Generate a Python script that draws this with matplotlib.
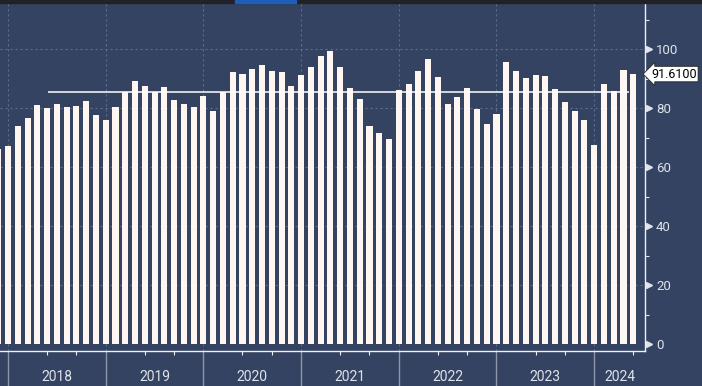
"""
Bar chart of a sentiment index, styled like a Bloomberg terminal panel.
"""

import numpy as np
import matplotlib
matplotlib.use('Agg')
import matplotlib.pyplot as plt
import matplotlib.transforms as mtransforms
from matplotlib.patches import Rectangle


# 10 observations per year, first bar is the last one of 2017
VALUES = [
    66.2,
    67.2, 74.0, 76.7, 81.1, 80.1, 81.5, 80.4, 80.8, 82.5, 77.7,
    76.0, 80.4, 85.4, 89.2, 87.5, 85.4, 87.2, 82.8, 81.5, 80.4,
    84.2, 79.1, 85.4, 92.3, 91.6, 93.3, 94.7, 92.6, 92.3, 87.5,
    91.3, 94.0, 97.7, 99.4, 94.0, 86.9, 83.2, 74.0, 71.6, 69.5,
    86.2, 88.2, 92.6, 96.7, 90.6, 81.5, 83.8, 86.9, 79.8, 74.7,
    78.1, 95.7, 92.6, 90.3, 91.3, 90.9, 86.5, 82.1, 79.1, 76.0,
    67.6, 88.2, 85.9, 93.0, 91.61,
]
YEARS = ['2018', '2019', '2020', '2021', '2022', '2023', '2024']
YEAR_START_IDX = [1, 11, 21, 31, 41, 51, 61]
AVG_LEVEL = 85.4
AVG_SPAN = (5.1, 64.6)
LAST_LABEL = '91.6100'
Y_TICKS = [0, 20, 40, 60, 80, 100]

BG = '#344361'
GRID = '#5b6c8d'
BAR = '#fff5f1'
TEXT = '#dfe3ea'


def main():
    plt.rcParams['font.family'] = ['Roboto', 'DejaVu Sans']

    fig = plt.figure(figsize=(7.02, 3.86), dpi=100, facecolor=BG)
    W, H = 702, 386
    ax = fig.add_axes([0, 35 / H, 645 / W, 348 / H])
    ax.set_facecolor(BG)

    x = np.arange(len(VALUES))
    ax.bar(x, VALUES, width=0.62, color=BAR, zorder=3)
    ax.hlines(AVG_LEVEL, AVG_SPAN[0], AVG_SPAN[1], color='white', lw=1.1, zorder=4)

    ax.set_xlim(0.18, 66.2)
    ax.set_ylim(-2.3, 115.7)

    # grid
    dash = (0, (2, 2.5))
    for yv in Y_TICKS[1:]:
        ax.axhline(yv, color=GRID, lw=0.8, ls=dash, zorder=1)
    for xi in YEAR_START_IDX:
        ax.axvline(xi, color=GRID, lw=0.8, ls=dash, zorder=1)

    # spines
    for side in ['top', 'left']:
        ax.spines[side].set_visible(False)
    for side in ['bottom', 'right']:
        ax.spines[side].set_color('#eef0f4')
        ax.spines[side].set_linewidth(1.0)

    # y axis on the right, with arrow markers at the major ticks
    ax.yaxis.tick_right()
    ax.set_yticks(Y_TICKS)
    ax.set_yticklabels([str(v) for v in Y_TICKS])
    ax.set_yticks(np.arange(10, 120, 20), minor=True)
    ax.tick_params(axis='y', which='major', length=0, pad=8, labelsize=9.5,
                   labelcolor=TEXT)
    ax.tick_params(axis='y', which='minor', length=3, width=0.8, color=TEXT)
    trans = mtransforms.blended_transform_factory(ax.transAxes, ax.transData)
    ax.plot([1.0055] * len(Y_TICKS), Y_TICKS, ls='none', marker='>', ms=5,
            color=TEXT, transform=trans, clip_on=False, zorder=5)

    # x axis: long grey separators at year starts, short ticks inside years
    ax.set_xticks(YEAR_START_IDX)
    ax.set_xticklabels([])
    minor = [i + k for i in YEAR_START_IDX for k in (4, 7)]
    minor = [m for m in minor if m < 66]
    ax.set_xticks(minor, minor=True)
    ax.tick_params(axis='x', which='major', length=26, width=1.0, color='#8e97aa')
    ax.tick_params(axis='x', which='minor', length=3, width=0.8, color='#eef0f4')

    bounds = YEAR_START_IDX + [ax.get_xlim()[1]]
    xtrans = mtransforms.blended_transform_factory(ax.transData, ax.transAxes)
    for yr, a, b in zip(YEARS, bounds[:-1], bounds[1:]):
        ax.text((a + b) / 2, -26 / 348, yr, transform=xtrans, ha='center',
                va='center', fontsize=10, color=TEXT)

    # last value tag
    ax.annotate(LAST_LABEL, xy=(1.0, VALUES[-1]), xycoords=trans,
                xytext=(4.5, 0), textcoords='offset points', ha='left', va='center',
                fontsize=9, color='black',
                bbox=dict(boxstyle='larrow,pad=0.1', fc='white', ec='#222222', lw=0.6),
                annotation_clip=False, zorder=6)

    # terminal title strip at the top
    fig.patches.append(Rectangle((0, 1 - 3 / H), 1, 3 / H, transform=fig.transFigure,
                                 color='#202226', zorder=10))
    fig.patches.append(Rectangle((235 / W, 1 - 3 / H), 61 / W, 3 / H,
                                 transform=fig.transFigure, color='#1d5fb8', zorder=11))

    fig.savefig('out.png', dpi=100, facecolor=BG)
    plt.close(fig)


if __name__ == '__main__':
    main()
